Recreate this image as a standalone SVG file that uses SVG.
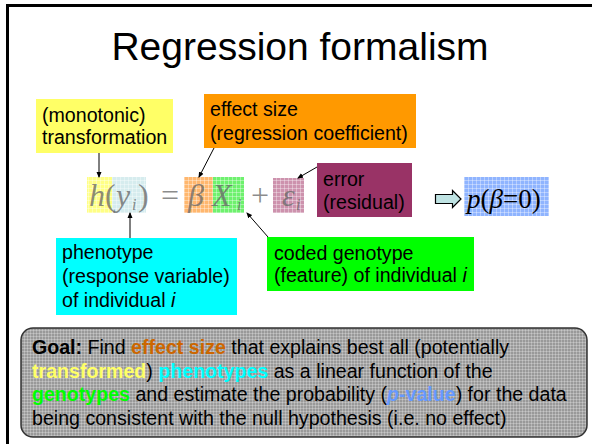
<svg xmlns="http://www.w3.org/2000/svg" width="592" height="444" viewBox="0 0 592 444">
<style>
.t{font-family:"Liberation Sans",Arial,sans-serif;font-size:19.6px;fill:#000}
.g{font-family:"Liberation Sans",Arial,sans-serif;font-size:19.6px;fill:#000}
.b{font-weight:bold}
.f{font-family:"Liberation Serif","Times New Roman",serif;font-style:italic;fill:#666;fill-opacity:0.75}
.fr{font-family:"Liberation Serif","Times New Roman",serif;fill:#666;fill-opacity:0.75}
.ln{stroke:#000;stroke-width:1;fill:none}
</style>
<defs>
<pattern id="grid" width="4" height="4" patternUnits="userSpaceOnUse">
<path d="M0 0.5H4M0.5 0V4" stroke="#fff" stroke-opacity="0.35" stroke-width="1"/>
</pattern>
<pattern id="grid2" width="3" height="3" patternUnits="userSpaceOnUse">
<path d="M0 0.5H3M0.5 0V3" stroke="#fff" stroke-opacity="0.25" stroke-width="1"/>
</pattern>
<marker id="ah" markerWidth="6" markerHeight="6" refX="5" refY="3" orient="auto" markerUnits="userSpaceOnUse">
<path d="M0 0.5L6 3L0 5.5Z" fill="#000"/>
</marker>
</defs>
<rect width="592" height="444" fill="#fff"/>
<rect x="7.5" y="5.5" width="700" height="500" fill="none" stroke="#000" stroke-width="3"/>
<text x="300" y="60" text-anchor="middle" style="font-family:'Liberation Sans',Arial,sans-serif;font-size:39px;fill:#000">Regression formalism</text>

<g id="formula">
<rect x="87" y="177" width="25" height="36" fill="#ffff66" opacity="0.8"/>
<rect x="112" y="177" width="34" height="36" fill="#d6ecee"/>
<rect x="184" y="177" width="29" height="36" fill="#ffaa55" opacity="0.85"/>
<rect x="213" y="177" width="31" height="36" fill="#55ee55" opacity="0.85"/>
<rect x="273" y="178" width="31" height="35" fill="#c07799" opacity="0.8"/>
<rect x="87" y="177" width="217" height="36" fill="url(#grid)"/>
<text x="89" y="206" class="f" font-size="32">h</text>
<text x="105" y="206" class="fr" font-size="32">(</text>
<text x="116" y="206" class="f" font-size="32">y</text>
<text x="132" y="210" class="f" font-size="16">i</text>
<text x="138" y="206" class="fr" font-size="32">)</text>
<text x="161" y="206" class="fr" font-size="32">=</text>
<text x="188" y="206" class="f" font-size="32">β</text>
<text x="212" y="206" class="f" font-size="32">X</text>
<text x="237" y="210" class="f" font-size="16">i</text>
<text x="251" y="206" class="fr" font-size="32">+</text>
<text x="282" y="206" class="f" font-size="32">ε</text>
<text x="296" y="210" class="f" font-size="16">i</text>
</g>

<g id="transformation">
<rect x="36" y="99" width="137" height="54" fill="#ffff66"/>
<text class="t" x="42" y="122">(monotonic)</text>
<text class="t" x="42" y="144">transformation</text>
</g>

<g id="effect-size">
<rect x="204" y="94" width="212" height="54" fill="#ff9900"/>
<text class="t" x="210" y="116">effect size</text>
<text class="t" x="210" y="140">(regression coefficient)</text>
</g>

<g id="error">
<rect x="317" y="163" width="95" height="54" fill="#993366"/>
<text class="t" x="323" y="186">error</text>
<text class="t" x="323" y="209">(residual)</text>
</g>

<g id="implies">
<path d="M435.5 194.5H452.5V190.5L461 199L452.5 207.5V203.5H435.5Z" fill="#bfe3e3" stroke="#000" stroke-width="1.2"/>
</g>

<g id="pvalue">
<rect x="464" y="177" width="85" height="39" fill="#8fb4ff"/>
<rect x="464" y="177" width="85" height="39" fill="url(#grid)"/>
<text x="467" y="208" style="font-family:'Liberation Serif','Times New Roman',serif;font-size:27px;fill:#000"><tspan font-style="italic">p</tspan>(<tspan font-style="italic">β</tspan>=0)</text>
</g>

<g id="phenotype">
<rect x="56" y="238" width="181" height="77" fill="#00ffff"/>
<text class="t" x="62" y="259">phenotype</text>
<text class="t" x="62" y="283">(response variable)</text>
<text class="t" x="62" y="307">of individual <tspan font-style="italic">i</tspan></text>
</g>

<g id="genotype">
<rect x="267" y="237" width="207" height="54" fill="#00ff00"/>
<text class="t" x="274" y="260">coded genotype</text>
<text class="t" x="274" y="282">(feature) of individual <tspan font-style="italic">i</tspan></text>
</g>

<g id="connectors">
<line class="ln" x1="99" y1="153" x2="99" y2="177" marker-end="url(#ah)"/>
<line class="ln" x1="214" y1="148" x2="199" y2="177" marker-end="url(#ah)"/>
<line class="ln" x1="317" y1="167" x2="298" y2="178" marker-end="url(#ah)"/>
<line class="ln" x1="130" y1="238" x2="130" y2="213" marker-end="url(#ah)"/>
<line class="ln" x1="268" y1="237" x2="247" y2="213" marker-end="url(#ah)"/>
</g>

<g id="goal">
<rect x="21" y="328" width="566" height="109" rx="12" ry="12" fill="#999999" stroke="#333" stroke-width="1.5"/>
<rect x="22" y="329" width="564" height="107" rx="11" ry="11" fill="url(#grid2)"/>
<text class="g" x="32" y="354"><tspan class="b">Goal:</tspan> Find <tspan class="b" fill="#cc6600">effect size</tspan> that explains best all (potentially</text>
<text class="g" x="32" y="378"><tspan class="b" fill="#ffff66">transformed</tspan>) <tspan class="b" fill="#00ffff">phenotypes</tspan> as a linear function of the</text>
<text class="g" x="32" y="401"><tspan class="b" fill="#00ff00">genotypes</tspan> and estimate the probability (<tspan class="b" fill="#6699ff"><tspan font-style="italic">p</tspan>-value</tspan>) for the data</text>
<text class="g" x="32" y="425">being consistent with the null hypothesis (i.e. no effect)</text>
</g>
</svg>
